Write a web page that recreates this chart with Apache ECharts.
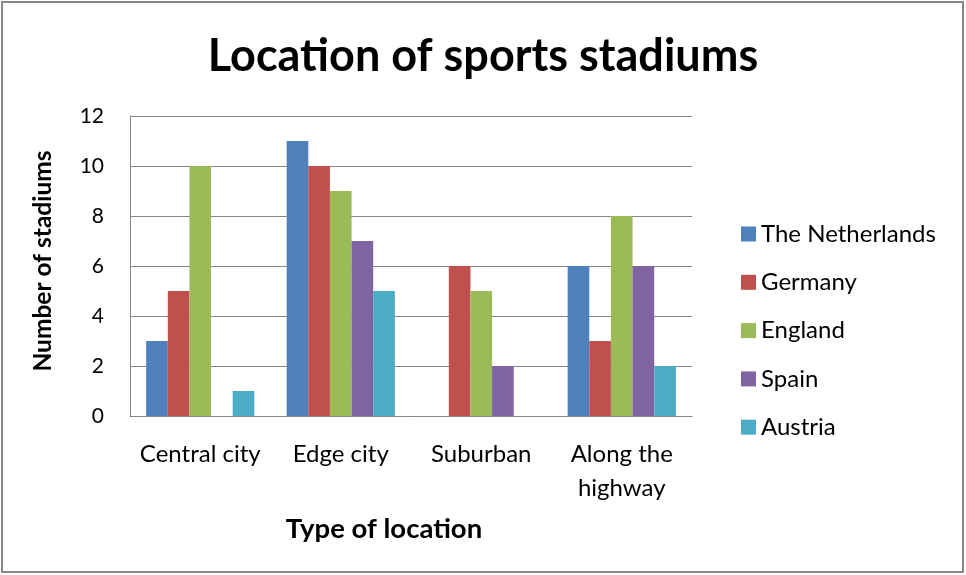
<!DOCTYPE html>
<html>
<head>
<meta charset="utf-8">
<script src="https://cdn.jsdelivr.net/npm/echarts@6/dist/echarts.min.js"></script>
<style>
  html, body { margin: 0; padding: 0; background: #fff; }
  #chart { width: 966px; height: 575px; }
</style>
</head>
<body>
<div id="chart"></div>
<script>
// Stadium counts per location type, one array per country
const categories = ['Central city', 'Edge city', 'Suburban', 'Along the\nhighway'];
const netherlands = [3, 11, 0, 6];
const germany = [5, 10, 6, 3];
const england = [10, 9, 5, 8];
const spain = [0, 7, 2, 6];
const austria = [1, 5, 0, 2];
const yTicks = [0, 2, 4, 6, 8, 10, 12];

const seriesDefs = [
  { name: 'The Netherlands', data: netherlands, color: '#4F81BD' },
  { name: 'Germany', data: germany, color: '#C0504D' },
  { name: 'England', data: england, color: '#9BBB59' },
  { name: 'Spain', data: spain, color: '#8064A2' },
  { name: 'Austria', data: austria, color: '#4BACC6' }
];

const FONT = 'Lato, "Open Sans", sans-serif';
const chart = echarts.init(document.getElementById('chart'), null, { renderer: 'canvas' });

chart.setOption({
  animation: false,
  backgroundColor: '#ffffff',
  textStyle: { fontFamily: FONT, color: '#000' },
  title: {
    text: 'Location of sports stadiums',
    left: 'center',
    top: 29,
    textStyle: { fontFamily: FONT, fontSize: 45, fontWeight: 'bold', color: '#000' }
  },
  legend: {
    orient: 'vertical',
    left: 736,
    top: 217,
    itemWidth: 15,
    itemHeight: 15,
    itemGap: 24.3,
    icon: 'rect',
    textStyle: { fontFamily: FONT, fontSize: 24, color: '#000', padding: [0, 0, 0, 0] },
    data: seriesDefs.map(s => s.name)
  },
  grid: { left: 130, right: 274, top: 116, bottom: 159 },
  xAxis: {
    type: 'category',
    data: categories,
    axisLine: { show: true, lineStyle: { color: '#868686', width: 1 } },
    axisTick: { show: false },
    axisLabel: { color: '#000', fontFamily: FONT, fontSize: 24, margin: 21, lineHeight: 34, interval: 0 },
    splitLine: { show: false }
  },
  yAxis: {
    type: 'value',
    min: yTicks[0],
    max: yTicks[yTicks.length - 1],
    interval: 2,
    axisLine: { show: true, lineStyle: { color: '#868686', width: 1 } },
    axisTick: { show: false },
    axisLabel: { color: '#000', fontFamily: FONT, fontSize: 21, margin: 26 },
    splitLine: { show: true, lineStyle: { color: '#868686', width: 1 } }
  },
  graphic: [
    {
      type: 'rect',
      shape: { x: 2, y: 2, width: 961, height: 570 },
      style: { fill: 'none', stroke: '#878787', lineWidth: 2 },
      silent: true
    },
    {
      type: 'text',
      x: 43, y: 261,
      rotation: Math.PI / 2,
      style: {
        text: 'Number of stadiums',
        fontFamily: FONT, fontSize: 24.5, fontWeight: 'bold', fill: '#000',
        align: 'center', verticalAlign: 'middle'
      },
      silent: true
    },
    {
      type: 'text',
      x: 384, y: 529,
      style: {
        text: 'Type of location',
        fontFamily: FONT, fontSize: 27.5, fontWeight: 'bold', fill: '#000',
        align: 'center', verticalAlign: 'middle'
      },
      silent: true
    }
  ],
  series: seriesDefs.map(s => ({
    name: s.name,
    type: 'bar',
    data: s.data,
    barGap: '0%',
    barCategoryGap: '23%',
    itemStyle: { color: s.color },
    emphasis: { disabled: true }
  }))
});
</script>
</body>
</html>
